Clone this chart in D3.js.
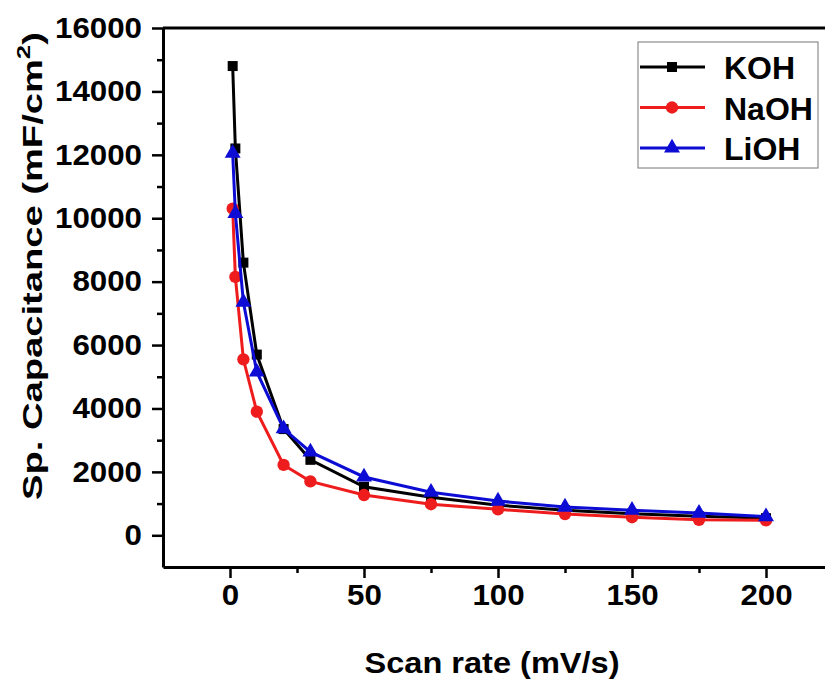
<!DOCTYPE html>
<html>
<head>
<meta charset="utf-8">
<script src="https://cdn.jsdelivr.net/npm/d3@7"></script>
<style>
  body { margin: 0; background: #fff; }
  svg { display: block; font-family: "Liberation Sans", Arial, sans-serif; font-weight: bold; }
  .axis path, .axis line { stroke: #000; }
</style>
</head>
<body>
<div id="chart"></div>
<script>
// scan rates (mV/s)
var scanRates = [1, 2, 5, 10, 20, 30, 50, 75, 100, 125, 150, 175, 200];

// specific capacitance (mF/cm2) per electrolyte
var kohValues = [14800, 12200, 8600, 5700, 3350, 2380, 1530, 1200, 950, 790, 680, 600, 540];
var naohValues = [10300, 8150, 5550, 3900, 2220, 1700, 1270, 980, 820, 670, 570, 490, 470];
var liohValues = [12050, 10150, 7350, 5150, 3360, 2630, 1840, 1360, 1080, 890, 790, 700, 590];

var seriesNames = ['KOH', 'NaOH', 'LiOH'];
var xMajorTicks = [0, 50, 100, 150, 200];
var xMinorTicks = [25, 75, 125, 175];
var yMajorTicks = [0, 2000, 4000, 6000, 8000, 10000, 12000, 14000, 16000];
var yMinorTicks = [1000, 3000, 5000, 7000, 9000, 11000, 13000, 15000];

var svgWidth = 825;
var svgHeight = 679;

var margins = { top: 28, left: 163 };
var plotRight = 833;
var plotBottom = 567;

var svg = d3.select('#chart')
    .append('svg')
    .attr('width', svgWidth)
    .attr('height', svgHeight);

var x = d3.scaleLinear()
    .domain([-25, 225])
    .range([margins.left, plotRight]);

var y = d3.scaleLinear()
    .domain([-1000, 16000])
    .range([plotBottom, margins.top]);

// the source picture is a bit wider than tall, so digits get stretched
function stretchLabels(sel) {
    sel.attr('font-size', 29)
        .attr('font-weight', 'bold')
        .attr('fill', '#000')
        .attr('textLength', d => String(d).length * 17.4)
        .attr('lengthAdjust', 'spacingAndGlyphs');
}

// top frame line
svg.append('line')
    .attr('x1', margins.left).attr('x2', plotRight)
    .attr('y1', margins.top).attr('y2', margins.top)
    .attr('stroke', '#000').attr('stroke-width', 3);

// minor ticks
svg.append('g')
    .attr('class', 'axis')
    .attr('transform', `translate(0,${plotBottom})`)
    .call(d3.axisBottom(x).tickValues(xMinorTicks).tickSize(6).tickFormat(''))
    .call(g => g.select('.domain').remove())
    .selectAll('line').attr('stroke-width', 2.5);

svg.append('g')
    .attr('class', 'axis')
    .attr('transform', `translate(${margins.left},0)`)
    .call(d3.axisLeft(y).tickValues(yMinorTicks).tickSize(6).tickFormat(''))
    .call(g => g.select('.domain').remove())
    .selectAll('line').attr('stroke-width', 2.5);

// major x axis
var xAxis = svg.append('g')
    .attr('class', 'axis')
    .attr('transform', `translate(0,${plotBottom})`)
    .call(d3.axisBottom(x).tickValues(xMajorTicks).tickFormat(d3.format('d'))
        .tickSize(11).tickSizeOuter(0).tickPadding(6));

xAxis.select('.domain').attr('stroke-width', 3);
xAxis.selectAll('line').attr('stroke-width', 2.5);
xAxis.selectAll('text').call(stretchLabels);

// major y axis
var yAxis = svg.append('g')
    .attr('class', 'axis')
    .attr('transform', `translate(${margins.left},0)`)
    .call(d3.axisLeft(y).tickValues(yMajorTicks).tickFormat(d3.format('d'))
        .tickSize(11).tickSizeOuter(0).tickPadding(10));

yAxis.select('.domain').attr('stroke-width', 3);
yAxis.selectAll('line').attr('stroke-width', 2.5);
yAxis.selectAll('text').call(stretchLabels);

// axis titles
svg.append('text')
    .attr('x', 492)
    .attr('y', 673)
    .attr('text-anchor', 'middle')
    .attr('font-size', 29)
    .attr('textLength', 255)
    .attr('lengthAdjust', 'spacingAndGlyphs')
    .text('Scan rate (mV/s)');

var yTitle = svg.append('text')
    .attr('transform', 'translate(42,266) rotate(-90)')
    .attr('text-anchor', 'middle')
    .attr('font-size', 28)
    .attr('textLength', 468)
    .attr('lengthAdjust', 'spacingAndGlyphs');
yTitle.append('tspan').text('Sp. Capacitance (mF/cm');
yTitle.append('tspan').attr('font-size', 19).attr('dy', -12).text('2');
yTitle.append('tspan').attr('dy', 12).text(')');

var series = [
    { name: seriesNames[0], values: kohValues, color: '#000000', marker: d3.symbolSquare, size: 100 },
    { name: seriesNames[1], values: naohValues, color: '#ee1c1c', marker: d3.symbolCircle, size: 120 },
    { name: seriesNames[2], values: liohValues, color: '#0c0cd4', marker: d3.symbolTriangle, size: 110 }
];

var line = d3.line()
    .x((d, i) => x(scanRates[i]))
    .y(d => y(d));

series.forEach(function (s) {
    var g = svg.append('g');
    g.append('path')
        .datum(s.values)
        .attr('d', line)
        .attr('fill', 'none')
        .attr('stroke', s.color)
        .attr('stroke-width', 3);

    g.selectAll('path.marker')
        .data(s.values)
        .enter()
        .append('path')
        .attr('class', 'marker')
        .attr('d', d3.symbol().type(s.marker).size(s.size))
        .attr('transform', (d, i) => `translate(${x(scanRates[i])},${y(d)})`)
        .attr('fill', s.color);
});

// legend
var legend = svg.append('g');
legend.append('rect')
    .attr('x', 638).attr('y', 42)
    .attr('width', 180).attr('height', 126)
    .attr('fill', 'none')
    .attr('stroke', '#777')
    .attr('stroke-width', 1);

series.forEach(function (s, i) {
    var ly = 67 + i * 40.5;
    legend.append('line')
        .attr('x1', 640).attr('x2', 705)
        .attr('y1', ly).attr('y2', ly)
        .attr('stroke', s.color)
        .attr('stroke-width', 3);
    legend.append('path')
        .attr('d', d3.symbol().type(s.marker).size(s.size))
        .attr('transform', `translate(672,${ly})`)
        .attr('fill', s.color);
    legend.append('text')
        .attr('x', 724)
        .attr('y', ly + 12)
        .attr('font-size', 32)
        .text(s.name);
});
</script>
</body>
</html>
